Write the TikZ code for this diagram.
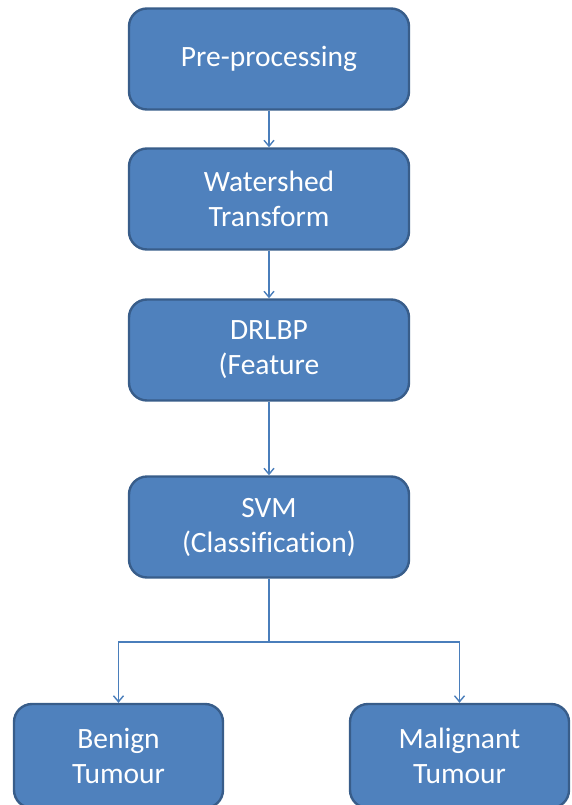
\documentclass[tikz,border=0pt]{standalone}
\usepackage{fontspec}
\setmainfont{Carlito}[Ligatures=NoCommon]
\usetikzlibrary{arrows.meta}
\definecolor{boxfill}{HTML}{4F81BD}
\definecolor{boxline}{HTML}{385D8A}
\definecolor{linkcol}{HTML}{4A7EBB}
\begin{document}
\begin{tikzpicture}[
    x=1pt, y=-1pt,
    block/.style={rectangle, rounded corners=18pt, draw=boxline, line width=2.4pt, fill=boxfill,
        text=white, align=center, font=\fontsize{29.5}{35}\selectfont,
        minimum height=101pt, minimum width=280pt, inner sep=0pt},
    link/.style={draw=linkcol, line width=1.4pt, -{Straight Barb[length=6pt,width=10pt]}}
]
    \useasboundingbox (0,0) rectangle (572,805);

    % Processing chain
    \node[block] (pre) at (269,59) {Pre-processing};
    \node[block] (watershed) at (269,199) {Watershed\\Transform};
    \node[block] (drlbp) at (269,350) {DRLBP\\(Feature};
    \node[block] (svm) at (269,527) {SVM\\(Classification)};

    % Outcomes
    \node[block, minimum width=209pt, minimum height=104pt] (benign) at (118.5,756) {Benign\\Tumour};
    \node[block, minimum width=219pt, minimum height=104pt] (malignant) at (459.5,756) {Malignant\\Tumour};

    \coordinate (split) at (269,642);

    % Connections
    \draw[link] (pre) -- (watershed);
    \draw[link] (watershed) -- (drlbp);
    \draw[link] (drlbp) -- (svm);
    \draw[draw=linkcol, line width=1.4pt] (svm) -- (split);
    \draw[link] (split) -| (benign.north);
    \draw[link] (split) -| (malignant.north);
\end{tikzpicture}
\end{document}
